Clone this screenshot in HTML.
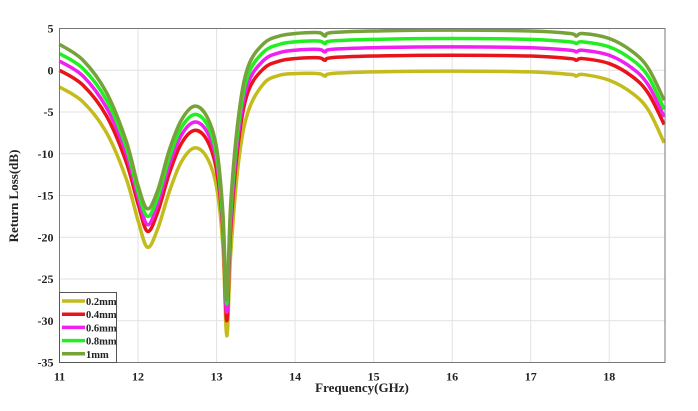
<!DOCTYPE html>
<html><head><meta charset="utf-8"><style>
body{margin:0;background:#fff;}
svg text{font-family:"Liberation Serif",serif;font-weight:bold;fill:#222;}
</style></head><body>
<svg id="chart" width="698" height="406" viewBox="0 0 698 406" xmlns="http://www.w3.org/2000/svg">
<g id="grid"></g>
<g id="series"></g>
<rect x="59.5" y="28.5" width="605.5" height="334" fill="none" stroke="#777" stroke-width="1"/>
<g id="ticks"></g>
<text x="362" y="392" font-size="13" text-anchor="middle">Frequency(GHz)</text>
<text transform="translate(18,196) rotate(-90)" font-size="13" text-anchor="middle">Return Loss(dB)</text>
<g id="legend"></g>
</svg>
<script>
const freqs=[11,11.3,11.6,11.85,12.0,12.12,12.25,12.4,12.55,12.72,12.88,13.0,13.08,13.13,13.18,13.28,13.4,13.6,13.8,14.0,14.3,14.38,14.46,15,16,17,17.5,17.58,17.66,18,18.3,18.5,18.7];
const s02=[-2,-3.8,-7.5,-13,-18,-21.2,-19,-14.5,-11,-9.3,-10.5,-14,-21,-31.8,-22,-11,-5,-1.6,-0.6,-0.4,-0.4,-0.7,-0.4,-0.2,-0.1,-0.2,-0.5,-0.7,-0.5,-1.2,-2.8,-4.8,-8.7];
const s04=[0,-1.8,-5.5,-11,-16,-19.3,-17,-12.3,-8.8,-7.2,-8.4,-12,-19,-30,-19,-8.5,-2.6,0.2,1.1,1.4,1.5,1.2,1.5,1.7,1.8,1.7,1.4,1.2,1.4,0.8,-0.8,-2.8,-6.5];
const s06=[1.1,-0.7,-4.5,-10,-15.2,-18.5,-16,-11.3,-7.8,-6.2,-7.4,-11,-18.5,-29,-18,-7.5,-1.6,1.2,2.1,2.4,2.5,2.2,2.5,2.7,2.8,2.7,2.4,2.2,2.4,1.8,0.2,-1.8,-5.6];
const s08=[2,0.2,-3.6,-9.2,-14.5,-17.5,-15.2,-10.4,-6.9,-5.3,-6.5,-10.2,-18,-28,-17,-6.5,-0.6,2.2,3.1,3.4,3.5,3.2,3.5,3.7,3.8,3.7,3.4,3.2,3.4,2.8,1.2,-0.8,-4.7];
const s10=[3.1,1.2,-2.7,-8.5,-13.8,-16.6,-14.4,-9.5,-6,-4.3,-5.6,-9.3,-17,-27.5,-16,-5.5,0.4,3.2,4.1,4.4,4.5,4.1,4.5,4.7,4.8,4.7,4.4,4.1,4.4,3.8,2.2,0.2,-3.6];
const seriesNames=["0.2mm","0.4mm","0.6mm","0.8mm","1mm"];
const xTicks=[11,12,13,14,15,16,17,18];
const yTicks=[5,0,-5,-10,-15,-20,-25,-30,-35];

const NS="http://www.w3.org/2000/svg";
const colors=["#c4bc1c","#e8141c","#f020f0","#22ee22","#76a23a"];
const allSeries=[s02,s04,s06,s08,s10];
const X0=59.5,X1=665,XMIN=11,XMAX=18.71,Y0=28.5,Y1=362.5,YMAX=5,YMIN=-35;
const xs=v=>X0+(v-XMIN)/(XMAX-XMIN)*(X1-X0);
const ys=v=>Y0+(YMAX-v)/(YMAX-YMIN)*(Y1-Y0);
function mk(tag,attrs,parent){const e=document.createElementNS(NS,tag);for(const k in attrs)e.setAttribute(k,attrs[k]);parent.appendChild(e);return e;}
const grid=document.getElementById('grid'),ticks=document.getElementById('ticks');
xTicks.forEach(t=>{
  const l=mk('line',{x1:xs(t),x2:xs(t),y1:Y0,y2:Y1,stroke:'#e2e2e2'},grid);
  
  
  const tx=mk('text',{x:xs(t),y:Y1+18,'font-size':12,'text-anchor':'middle'},ticks);
  tx.textContent=t;
  
  
});
yTicks.forEach(t=>{
  const l=mk('line',{x1:X0,x2:X1,y1:ys(t),y2:ys(t),stroke:'#e2e2e2'},grid);
  
  
  const tx=mk('text',{x:X0-6,y:ys(t)+4,'font-size':12,'text-anchor':'end'},ticks);
  tx.textContent=t;
  
  
});
function pathFor(vals){
  const p=freqs.map((f,i)=>[xs(f),ys(vals[i])]);
  let d='M'+p[0][0]+','+p[0][1];
  for(let i=0;i<p.length-1;i++){
    const p0=p[i-1]||p[i],p1=p[i],p2=p[i+1],p3=p[i+2]||p2;
    const c1=[p1[0]+(p2[0]-p0[0])/6,p1[1]+(p2[1]-p0[1])/6];
    const c2=[p2[0]-(p3[0]-p1[0])/6,p2[1]-(p3[1]-p1[1])/6];
    d+=' C'+c1[0]+','+c1[1]+' '+c2[0]+','+c2[1]+' '+p2[0]+','+p2[1];
  }
  return d;
}
const sg=document.getElementById('series');
allSeries.forEach((vals,i)=>{
  const pth=mk('path',{d:pathFor(vals),fill:'none',stroke:colors[i],'stroke-width':3.5,'stroke-linejoin':'round'},sg);
  
  
});
const lg=document.getElementById('legend');
mk('rect',{x:59.5,y:292.5,width:57,height:70,fill:'#fff',stroke:'#555'},lg);
seriesNames.forEach((n,i)=>{
  const y=301+i*13.2;
  const ln=mk('line',{x1:62,x2:85,y1:y,y2:y,stroke:colors[i],'stroke-width':3.5},lg);
  
  
  const t=mk('text',{x:86,y:y+4,'font-size':10.5},lg);
  t.textContent=n;
  
  
});
</script>
</body></html>
